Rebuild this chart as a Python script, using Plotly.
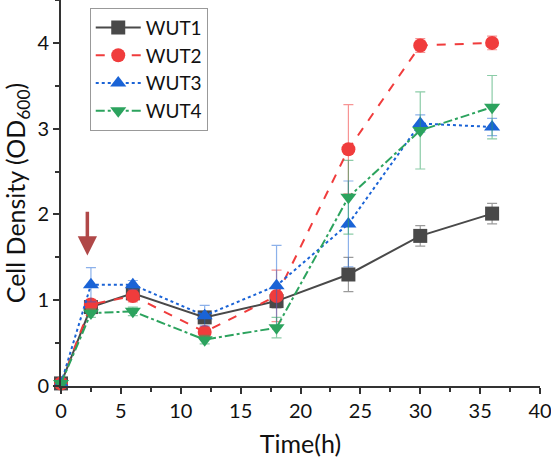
import plotly.graph_objects as go

time_h = [0, 2.5, 6, 12, 18, 24, 30, 36]
wut1 = [0.03, 0.92, 1.08, 0.80, 0.99, 1.30, 1.75, 2.01]
wut1_err = [0.02, 0.05, 0.06, 0.05, 0.08, 0.20, 0.12, 0.12]
wut2 = [0.03, 0.95, 1.05, 0.63, 1.05, 2.76, 3.97, 4.00]
wut2_err = [0.02, 0.06, 0.07, 0.06, 0.30, 0.52, 0.08, 0.08]
wut3 = [0.03, 1.18, 1.18, 0.82, 1.17, 1.89, 3.06, 3.02]
wut3_err = [0.02, 0.20, 0.05, 0.12, 0.47, 0.50, 0.10, 0.10]
wut4 = [0.03, 0.85, 0.87, 0.54, 0.68, 2.20, 2.98, 3.25]
wut4_err = [0.02, 0.05, 0.05, 0.05, 0.12, 0.43, 0.45, 0.37]

names = ["WUT1", "WUT2", "WUT3", "WUT4"]
series = [wut1, wut2, wut3, wut4]
errs = [wut1_err, wut2_err, wut3_err, wut4_err]
colors = ["#494949", "#f03c3c", "#1a63d6", "#2ca35e"]
err_colors = ["rgba(73,73,73,0.55)", "rgba(240,60,60,0.55)", "rgba(26,99,214,0.5)", "rgba(44,163,94,0.55)"]
dashes = ["solid", "dash", "dot", "dashdot"]
symbols = ["square", "circle", "triangle-up", "triangle-down"]

FONT = "Lato, Open Sans, sans-serif"

fig = go.Figure()
for n, y, e, c, ec, d, s in zip(names, series, errs, colors, err_colors, dashes, symbols):
    fig.add_trace(go.Scatter(
        x=time_h, y=y, name=n, mode="lines+markers",
        line=dict(color=c, width=2, dash=d),
        marker=dict(symbol=s, size=14, color=c),
        error_y=dict(type="data", array=e, color=ec, thickness=1.2, width=5),
        cliponaxis=False,
    ))

fig.add_annotation(x=2.2, y=1.52, ax=2.2, ay=2.05, xref="x", yref="y", axref="x", ayref="y",
                   showarrow=True, arrowhead=2, arrowsize=1.1, arrowwidth=3.5, arrowcolor="#b04848", text="")

axis_font = dict(family=FONT, size=20, color="#111")
title_font = dict(family=FONT, size=25, color="#111")
fig.update_layout(
    width=551, height=458,
    margin=dict(l=61, r=11, t=0, b=72),
    paper_bgcolor="white", plot_bgcolor="white",
    showlegend=True,
    legend=dict(x=0.06, y=0.98, xanchor="left", yanchor="top",
                bordercolor="#999", borderwidth=1, bgcolor="white",
                font=dict(family=FONT, size=19, color="#111"),
                tracegroupgap=0, itemwidth=45),
    xaxis=dict(range=[0, 40], tickmode="linear", tick0=0, dtick=5, automargin=False,
               ticklabeloverflow="allow",
               showline=True, linecolor="#333", linewidth=2, ticks="outside",
               ticklen=6, tickwidth=1.5, tickcolor="#333", showgrid=False, zeroline=False,
               minor=dict(ticks="outside", ticklen=4, tickwidth=1.5, tickcolor="#333", dtick=2.5, showgrid=False),
               tickfont=axis_font,
               title=dict(text="Time(h)", font=title_font, standoff=17)),
    yaxis=dict(range=[0, 4.5], tickmode="array", tickvals=[0, 1, 2, 3, 4], automargin=False,
               ticklabeloverflow="allow",
               showline=True, linecolor="#333", linewidth=2, ticks="outside",
               ticklen=6, tickwidth=1.5, tickcolor="#333", showgrid=False, zeroline=False,
               minor=dict(ticks="outside", ticklen=4, tickwidth=1.5, tickcolor="#333", tickvals=[0.5, 1.5, 2.5, 3.5, 4.5], showgrid=False),
               tickfont=axis_font,
               title=dict(text="Cell Density (OD<sub>600</sub>)", font=title_font, standoff=6)),
)

fig.write_html("out.html", config={"displayModeBar": False},
               post_script="document.body.style.margin='0px';")
